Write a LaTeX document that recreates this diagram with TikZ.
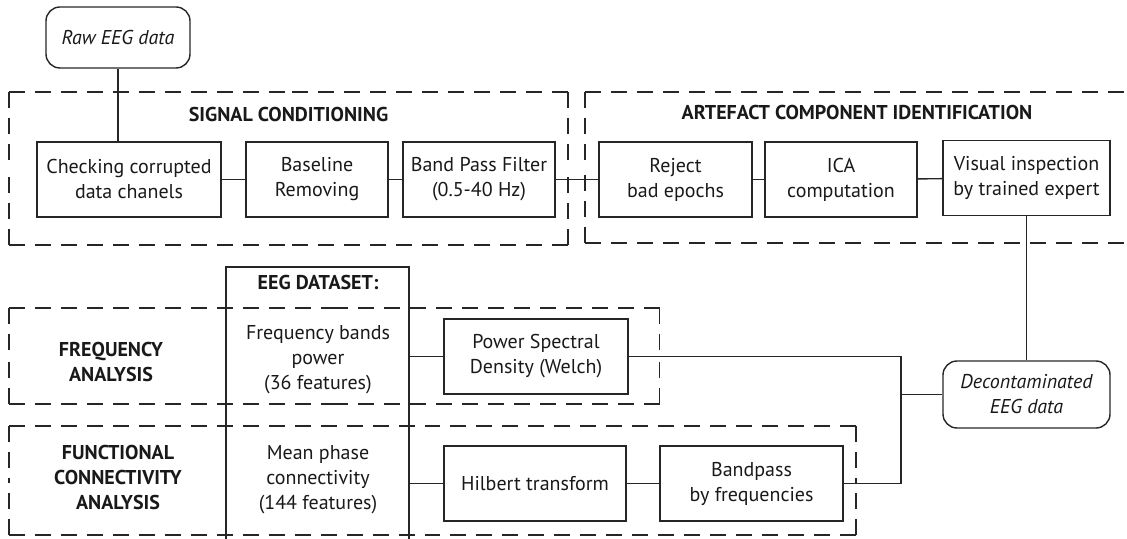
\documentclass[tikz,border=0pt]{standalone}
\usepackage{fontspec}
\setmainfont{PT Sans}
\usetikzlibrary{positioning,calc}

\tikzset{
  blk/.style={draw, align=center, inner sep=2pt, minimum height=37.5pt},
  term/.style={blk, rounded corners=7pt, font=\itshape\fontsize{10}{12.5}\selectfont},
  grp/.style={draw, dash pattern=on 8pt off 5pt},
  ttl/.style={align=center, font=\bfseries\fontsize{10}{12.5}\selectfont},
}
% dashed frame whose dashes start at every corner
\newcommand{\grpbox}[4]{%
  \foreach \ax/\ay/\bx/\by in {#1/#2/#3/#2, #3/#2/#3/#4, #3/#4/#1/#4, #1/#4/#1/#2} {
    \draw[grp] (\ax,\ay) -- ($(\ax,\ay)!0.5!(\bx,\by)$);
    \draw[grp] (\bx,\by) -- ($(\ax,\ay)!0.5!(\bx,\by)$);
  }}

\begin{document}
\begin{tikzpicture}[x=0.5pt, y=-0.5pt, line width=0.7pt, draw=black!85,
    every node/.style={font=\fontsize{10}{12.5}\selectfont, text=black!90}]
  \useasboundingbox (0,0) rectangle (1127,539);
  % dashed groups
  \grpbox{9}{92}{568}{245}
  \grpbox{585}{92}{1150}{243}
  \grpbox{9}{308}{659.5}{404}
  \grpbox{9}{426}{856}{535}
  \node[ttl] (sctitle) at (288.5,115) {SIGNAL CONDITIONING};
  \node[ttl] (actitle) at (857,113) {ARTEFACT COMPONENT IDENTIFICATION};
  \node[ttl] (fatitle) at (111,362) {FREQUENCY\\ANALYSIS};
  \node[ttl] (fctitle) at (118,477) {FUNCTIONAL\\CONNECTIVITY\\ANALYSIS};

  \node[term, minimum width=72pt, minimum height=30.5pt] (raw) at (118,37.5) {Raw EEG data};
  \node[blk, minimum width=92pt] (check) at (129,179.5) {Checking corrupted\\data chanels};
  \node[blk, minimum width=71pt] (base) at (317,179.5) {Baseline\\Removing};
  \node[blk, minimum width=76pt] (bpf) at (479,179.5) {Band Pass Filter\\(0.5-40 Hz)};
  \node[blk, minimum width=76.5pt] (rej) at (675.5,179.5) {Reject\\bad epochs};
  \node[blk, minimum width=76pt] (ica) at (841,179.5) {ICA\\computation};
  \node[blk, minimum width=83.5pt] (vis) at (1026.5,178) {Visual inspection\\by trained expert};
  \node[term, minimum width=83.5pt, minimum height=33.5pt] (decon) at (1026.5,394.5) {Decontaminated\\EEG data};

  % dataset column, open at the bottom
  \node[draw, minimum width=91.5pt, minimum height=146.5pt] (dataset) at (317.5,413.5) {};
  \node[ttl] (dstitle) at (318,283) {EEG DATASET:};
  \node[align=center] (fbp) at (318,360) {Frequency bands\\power\\(36 features)};
  \node[align=center] (mpc) at (318,480) {Mean phase\\connectivity\\(144 features)};

  \node[blk, minimum width=92pt] (psd) at (536,356.5) {Power Spectral\\Density (Welch)};
  \node[blk, minimum width=91pt] (hilb) at (535,483.5) {Hilbert transform};
  \node[blk, minimum width=91.5pt] (bp2) at (751.5,483.5) {Bandpass\\by frequencies};
  \coordinate (jn) at (901,394.5);

  \draw (raw) -- (raw |- check.north);
  \draw (check) -- (base);
  \draw (base) -- (bpf);
  \draw (bpf) -- (rej);
  \draw (rej) -- (ica);
  \draw (ica) -- (vis);
  \draw (vis) -- (decon);
  \draw (dataset.east |- psd) -- (psd);
  \draw (dataset.east |- hilb) -- (hilb);
  \draw (hilb) -- (bp2);
  \draw (psd) -| (jn) -- (decon);
  \draw (bp2) -| (jn);
\end{tikzpicture}
\end{document}
